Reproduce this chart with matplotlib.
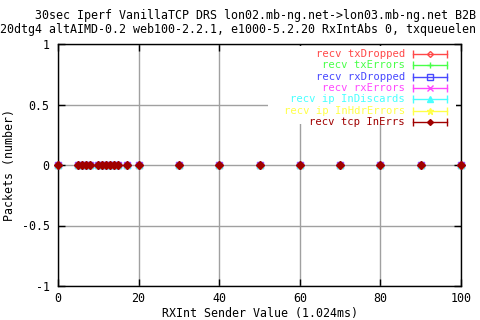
import matplotlib
matplotlib.use("Agg")
import matplotlib.pyplot as plt
from matplotlib.lines import Line2D
from matplotlib.patches import Rectangle

plt.rcParams['font.family'] = 'DejaVu Sans Mono'
plt.rcParams['axes.unicode_minus'] = False

# RXInt sender values and packet counts (all zero)
rxint = [0, 5, 6, 7, 8, 10, 11, 12, 13, 14, 15, 17, 20, 30, 40, 50, 60, 70, 80, 90, 100]
series_names = ['recv txDropped', 'recv txErrors', 'recv rxDropped', 'recv rxErrors',
                'recv ip InDiscards', 'recv ip InHdrErrors', 'recv tcp InErrs']
tx_dropped = [0] * 21
tx_errors = [0] * 21
rx_dropped = [0] * 21
rx_errors = [0] * 21
ip_indiscards = [0] * 21
ip_inhdrerrors = [0] * 21
tcp_inerrs = [0] * 21
series_values = [tx_dropped, tx_errors, rx_dropped, rx_errors,
                 ip_indiscards, ip_inhdrerrors, tcp_inerrs]

colors = ['#ff4848', '#48ff48', '#4848ff', '#ff48ff', '#48ffff', '#ffff48', '#a00000']
markers = ['D', '+', 's', 'x', '^', '*', 'D']
msizes = [3, 5, 4, 4, 4, 5, 4]
FS = 8.4
LEG_FS = 7.6

fig = plt.figure(figsize=(4.8, 3.2), dpi=100)
ax = fig.add_axes([58 / 480, 34 / 320, 403 / 480, 242 / 320])

for vals, c, m, s in zip(series_values, colors, markers, msizes):
    ax.plot(rxint, vals, linestyle='none', marker=m, markersize=s, color=c,
            markerfacecolor=c if m != 's' else 'none', markeredgewidth=1, clip_on=False, zorder=3)

ax.set_xlim(0, 100)
ax.set_ylim(-1, 1)
ax.set_xticks([0, 20, 40, 60, 80, 100])
ax.set_yticks([-1, -0.5, 0, 0.5, 1])
ax.set_yticklabels(['-1', '-0.5', '0', '0.5', '1'])
ax.grid(True, color='#a0a0a0', linewidth=1)
ax.tick_params(direction='in', length=5, width=1, top=True, right=True,
               labelsize=FS, colors='black')
ax.tick_params(axis='x', pad=4)
ax.tick_params(axis='y', pad=6)
for sp in ax.spines.values():
    sp.set_linewidth(1)

ax.set_xlabel('RXInt Sender Value (1.024ms)', fontsize=FS, labelpad=2)
ax.set_ylabel('Packets (number)', fontsize=FS, labelpad=4)

# legend drawn gnuplot style: white box, right-aligned text, errorbar sample
tr = ax.transAxes
ax.add_patch(Rectangle(((268 - 58) / 403, (286 - 124) / 242), (456 - 268) / 403, (124 - 46) / 242,
                       facecolor='white', edgecolor='none', transform=tr, zorder=2))
for i, (name, c, m, s) in enumerate(zip(series_names, colors, markers, msizes)):
    y = (286 - (54 + i * 11.3)) / 242
    ax.text((405 - 58) / 403, y, name, color=c, fontsize=LEG_FS, ha='right', va='center',
            transform=tr, zorder=6)
    x1, x2 = (413 - 58) / 403, (447 - 58) / 403
    ax.add_line(Line2D([x1, x2], [y, y], color=c, linewidth=1, transform=tr, zorder=6))
    ax.add_line(Line2D([x1, x2], [y, y], color=c, linestyle='none', marker='|',
                       markersize=6, transform=tr, zorder=6))
    face = 'none' if (m == 's' or i == 0) else c
    ax.add_line(Line2D([(x1 + x2) / 2], [y], color=c, linestyle='none', marker=m,
                       markersize=s if i < 6 else 3, markerfacecolor=face,
                       transform=tr, zorder=6))

fig.text(35 / 480, 1 - 16 / 320, '30sec Iperf VanillaTCP DRS lon02.mb-ng.net->lon03.mb-ng.net B2B',
         fontsize=FS, ha='left', va='center')
fig.text(0, 1 - 29 / 320, '20dtg4 altAIMD-0.2 web100-2.2.1, e1000-5.2.20 RxIntAbs 0, txqueuelen',
         fontsize=FS, ha='left', va='center')

fig.savefig('out.png', dpi=100, facecolor='white')
